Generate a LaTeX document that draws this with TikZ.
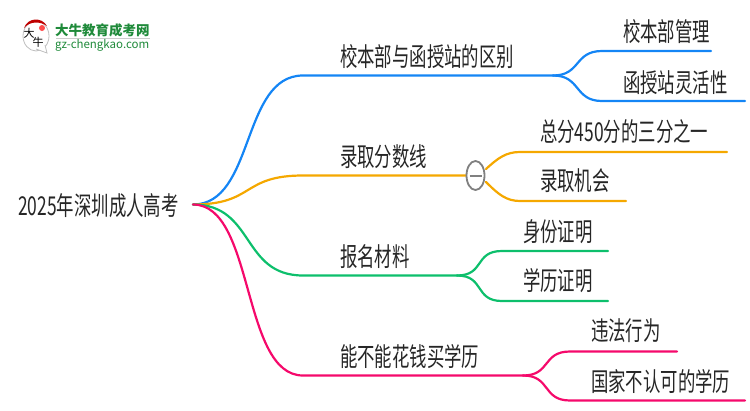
\documentclass[tikz,border=0pt]{standalone}
\usepackage{fontspec}
\usetikzlibrary{shapes.geometric}
\setmainfont{Noto Sans CJK SC}
\definecolor{lineblue}{HTML}{1485F5}
\definecolor{lineorange}{HTML}{F5A800}
\definecolor{linegreen}{HTML}{0DBF6C}
\definecolor{linepink}{HTML}{F5096B}
\definecolor{logogreen}{HTML}{1F8A3A}
\tikzset{
	topic/.style={inner sep=0pt, font=\fontsize{20}{20}\selectfont, text=black!85, anchor=west, xscale=0.87, yscale=1.3},
	branch/.style={line width=2.2pt, line cap=round},
}
\begin{document}
\begin{tikzpicture}[x=1pt, y=-1pt]
			%%%%% START %%%%%
			\useasboundingbox (0, 0) rectangle (750, 410);
			
			\node[topic] (root) at (18, 206) {2025年深圳成人高考};
			\coordinate (hub) at (193, 204.5);
			
			\coordinate (a0) at (303, 75.5);
			\coordinate (a1) at (553, 75.5);
			\coordinate (a2) at (602, 51);
			\coordinate (a3) at (711, 51);
			\coordinate (a4) at (602, 101);
			\coordinate (a5) at (745, 101);
			\draw[branch, lineblue] (hub) .. controls (255, 204.5) and (241, 75.5) .. (a0) -- (a1);
			\draw[branch, lineblue] (a1) .. controls (581, 75.5) and (574, 51) .. (a2) -- (a3);
			\draw[branch, lineblue] (a1) .. controls (581, 75.5) and (574, 101) .. (a4) -- (a5);
			\node[topic] (a) at (340, 56.5) {校本部与函授站的区别};
			\node[topic] (aa) at (623, 31.5) {校本部管理};
			\node[topic] (ab) at (623, 82.5) {函授站灵活性};
			
			\coordinate (b0) at (303, 175.5);
			\coordinate (b1) at (467, 175.5);
			\coordinate (b2) at (520, 152);
			\coordinate (b3) at (727, 152);
			\coordinate (b4) at (520, 201);
			\coordinate (b5) at (626, 201);
			\draw[branch, lineorange] (hub) .. controls (255, 204.5) and (241, 175.5) .. (b0) -- (b1);
			\draw[branch, lineorange] (486, 169) .. controls (498, 158) and (506, 152) .. (b2) -- (b3);
			\draw[branch, lineorange] (486, 182) .. controls (498, 194) and (506, 201) .. (b4) -- (b5);
			\node[topic] (b) at (340, 156.5) {录取分数线};
			\node[topic] (ba) at (540, 132) {总分450分的三分之一};
			\node[topic] (bb) at (540, 181) {录取机会};
			\node[draw=black!50, fill=white, line width=1.8pt, ellipse, minimum width=18pt, minimum height=29pt, inner sep=0pt] (fold) at (475.5, 175.5) {};
			\draw[line width=2pt, black!50] (fold.center) ++(-6, 0) -- ++(12, 0);
			
			\coordinate (c0) at (303, 275.5);
			\coordinate (c1) at (457, 275.5);
			\coordinate (c2) at (502, 251);
			\coordinate (c3) at (608, 251);
			\coordinate (c4) at (502, 301);
			\coordinate (c5) at (608, 301);
			\draw[branch, linegreen] (hub) .. controls (255, 204.5) and (241, 275.5) .. (c0) -- (c1);
			\draw[branch, linegreen] (c1) .. controls (485, 275.5) and (474, 251) .. (c2) -- (c3);
			\draw[branch, linegreen] (c1) .. controls (485, 275.5) and (474, 301) .. (c4) -- (c5);
			\node[topic] (c) at (340, 257) {报名材料};
			\node[topic] (ca) at (523, 232) {身份证明};
			\node[topic] (cb) at (523, 281) {学历证明};
			
			\coordinate (d0) at (303, 375.5);
			\coordinate (d1) at (523, 375.5);
			\coordinate (d2) at (570, 351.5);
			\coordinate (d3) at (677, 351.5);
			\coordinate (d4) at (570, 400.5);
			\coordinate (d5) at (745, 400.5);
			\draw[branch, linepink] (hub) .. controls (255, 204.5) and (241, 375.5) .. (d0) -- (d1);
			\draw[branch, linepink] (d1) .. controls (551, 375.5) and (542, 351.5) .. (d2) -- (d3);
			\draw[branch, linepink] (d1) .. controls (551, 375.5) and (542, 400.5) .. (d4) -- (d5);
			\node[topic] (d) at (340, 357) {能不能花钱买学历};
			\node[topic] (da) at (591, 331) {违法行为};
			\node[topic] (db) at (591, 381) {国家不认可的学历};
			
			\draw[black!25, line width=0.8pt, fill=white] (36, 36) circle (13 and 15);
			\draw[black!25, line width=0.8pt, fill=white] (36, 49) -- (47, 53) -- (45, 45);
			\fill[red!75!black] (24, 28) .. controls (28, 17) and (42, 17) .. (47, 26) .. controls (40, 21) and (30, 21) .. (24, 28);
			\fill[red!70] (42, 28) circle (3);
			\node[inner sep=0pt, font=\fontsize{11}{11}\selectfont] (bigda) at (29, 33) {大};
			\node[inner sep=0pt, font=\fontsize{11}{11}\selectfont] (bigniu) at (38, 42) {牛};
			\node[inner sep=0pt, font=\fontsize{13.5}{13.5}\selectfont\bfseries, text=logogreen, anchor=west] (logoa) at (55, 30) {大牛教育成考网};
			\draw[black!20, line width=0.6pt] (56, 38.5) -- (150, 38.5);
			\node[inner sep=0pt, font=\fontsize{11.5}{11.5}\selectfont, text=logogreen, anchor=west] (logob) at (55, 45) {gz-chengkao.com};
			
			%%%%% END %%%%%
		\end{tikzpicture}
\end{document}
